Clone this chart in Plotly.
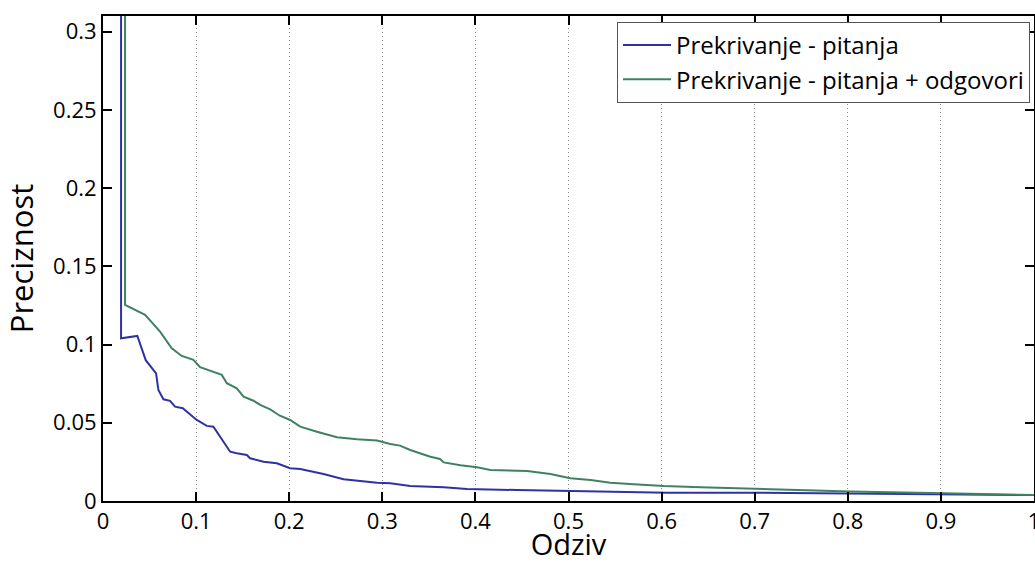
import plotly.graph_objects as go

# Precision-recall curves for two overlap-based retrieval variants
recall_q = [0.0194, 0.0194, 0.0369, 0.0459, 0.057, 0.0595, 0.0649, 0.072, 0.0774, 0.0857,
            0.1007, 0.1115, 0.1186, 0.1258, 0.131, 0.1366, 0.1437, 0.1545, 0.158, 0.1724,
            0.1867, 0.201, 0.2118, 0.2369, 0.2584, 0.2728, 0.2943, 0.3086, 0.33, 0.366,
            0.391, 0.445, 0.4986, 0.606, 0.703, 0.803, 0.9035, 1.0]
precision_q = [1.0, 0.104, 0.1055, 0.090, 0.0816, 0.071, 0.065, 0.064, 0.0603, 0.0593,
               0.0518, 0.048, 0.0475, 0.0411, 0.0358, 0.0315, 0.0305, 0.0294, 0.0273, 0.0251,
               0.0241, 0.0209, 0.0205, 0.0173, 0.0139, 0.013, 0.0117, 0.0113, 0.0096, 0.0088,
               0.0077, 0.007, 0.0064, 0.0053, 0.0053, 0.0049, 0.0043, 0.0038]

recall_qa = [0.0237, 0.0237, 0.0452, 0.0613, 0.0738, 0.0846, 0.0971, 0.1043, 0.1276, 0.133,
             0.1437, 0.151, 0.1617, 0.1688, 0.1796, 0.19, 0.201, 0.2118, 0.2298, 0.2513,
             0.2728, 0.2943, 0.3086, 0.319, 0.33, 0.3516, 0.362, 0.366, 0.384, 0.4019,
             0.416, 0.4556, 0.4806, 0.502, 0.5237, 0.545, 0.570, 0.6025, 0.642, 0.703,
             0.803, 0.9035, 1.0]
precision_qa = [1.0, 0.1253, 0.119, 0.1083, 0.0976, 0.0927, 0.0902, 0.0855, 0.0806, 0.0753,
                0.072, 0.0667, 0.0641, 0.0614, 0.0586, 0.0545, 0.0518, 0.0475, 0.0443, 0.0407,
                0.0395, 0.0386, 0.0365, 0.0354, 0.0326, 0.0283, 0.0269, 0.0247, 0.0228, 0.0216,
                0.0198, 0.0192, 0.0173, 0.0145, 0.0134, 0.0117, 0.0107, 0.0096, 0.0088, 0.0077,
                0.006, 0.0049, 0.0038]

series_names = ["Prekrivanje - pitanja", "Prekrivanje - pitanja + odgovori"]
x_ticks = [0, 0.1, 0.2, 0.3, 0.4, 0.5, 0.6, 0.7, 0.8, 0.9, 1]
x_tick_labels = ["0", "0.1", "0.2", "0.3", "0.4", "0.5", "0.6", "0.7", "0.8", "0.9", "1"]
y_ticks = [0, 0.05, 0.1, 0.15, 0.2, 0.25, 0.3]
y_tick_labels = ["0", "0.05", "0.1", "0.15", "0.2", "0.25", "0.3"]

FONT = "Open Sans"

fig = go.Figure()
fig.add_trace(go.Scatter(x=recall_q, y=precision_q, mode="lines", name=series_names[0],
                         line=dict(color="#2f32a3", width=2)))
fig.add_trace(go.Scatter(x=recall_qa, y=precision_qa, mode="lines", name=series_names[1],
                         line=dict(color="#3f8263", width=2)))

fig.update_layout(
    width=1035, height=563,
    margin=dict(l=103, r=1, t=16, b=62),
    paper_bgcolor="white", plot_bgcolor="white",
    font=dict(family=FONT, size=22, color="black"),
    showlegend=True,
    legend=dict(x=0.9957, y=0.9876, xanchor="right", yanchor="top",
                bgcolor="white", bordercolor="#555555", borderwidth=1,
                font=dict(family=FONT, size=24, color="black"),
                tracegroupgap=0, itemwidth=48),
)
fig.update_xaxes(
    range=[0, 1], tickvals=x_ticks, ticktext=x_tick_labels,
    ticklabeloverflow="allow", automargin=False,
    ticks="inside", ticklen=9, tickwidth=2, tickcolor="black",
    showline=True, linecolor="black", linewidth=2, mirror="ticks",
    showgrid=True, gridcolor="#8c8c8c", griddash="1px,3px", gridwidth=1,
    zeroline=False,
    title=dict(text="Odziv", font=dict(family=FONT, size=29), standoff=8),
)
fig.update_yaxes(
    range=[0, 0.31], tickvals=y_ticks, ticktext=y_tick_labels,
    automargin=False,
    ticks="inside", ticklen=9, tickwidth=2, tickcolor="black",
    showline=True, linecolor="black", linewidth=2, mirror="ticks",
    showgrid=False, zeroline=False,
    title=dict(text="Preciznost", font=dict(family=FONT, size=31), standoff=10),
)

fig.write_html("out.html")
